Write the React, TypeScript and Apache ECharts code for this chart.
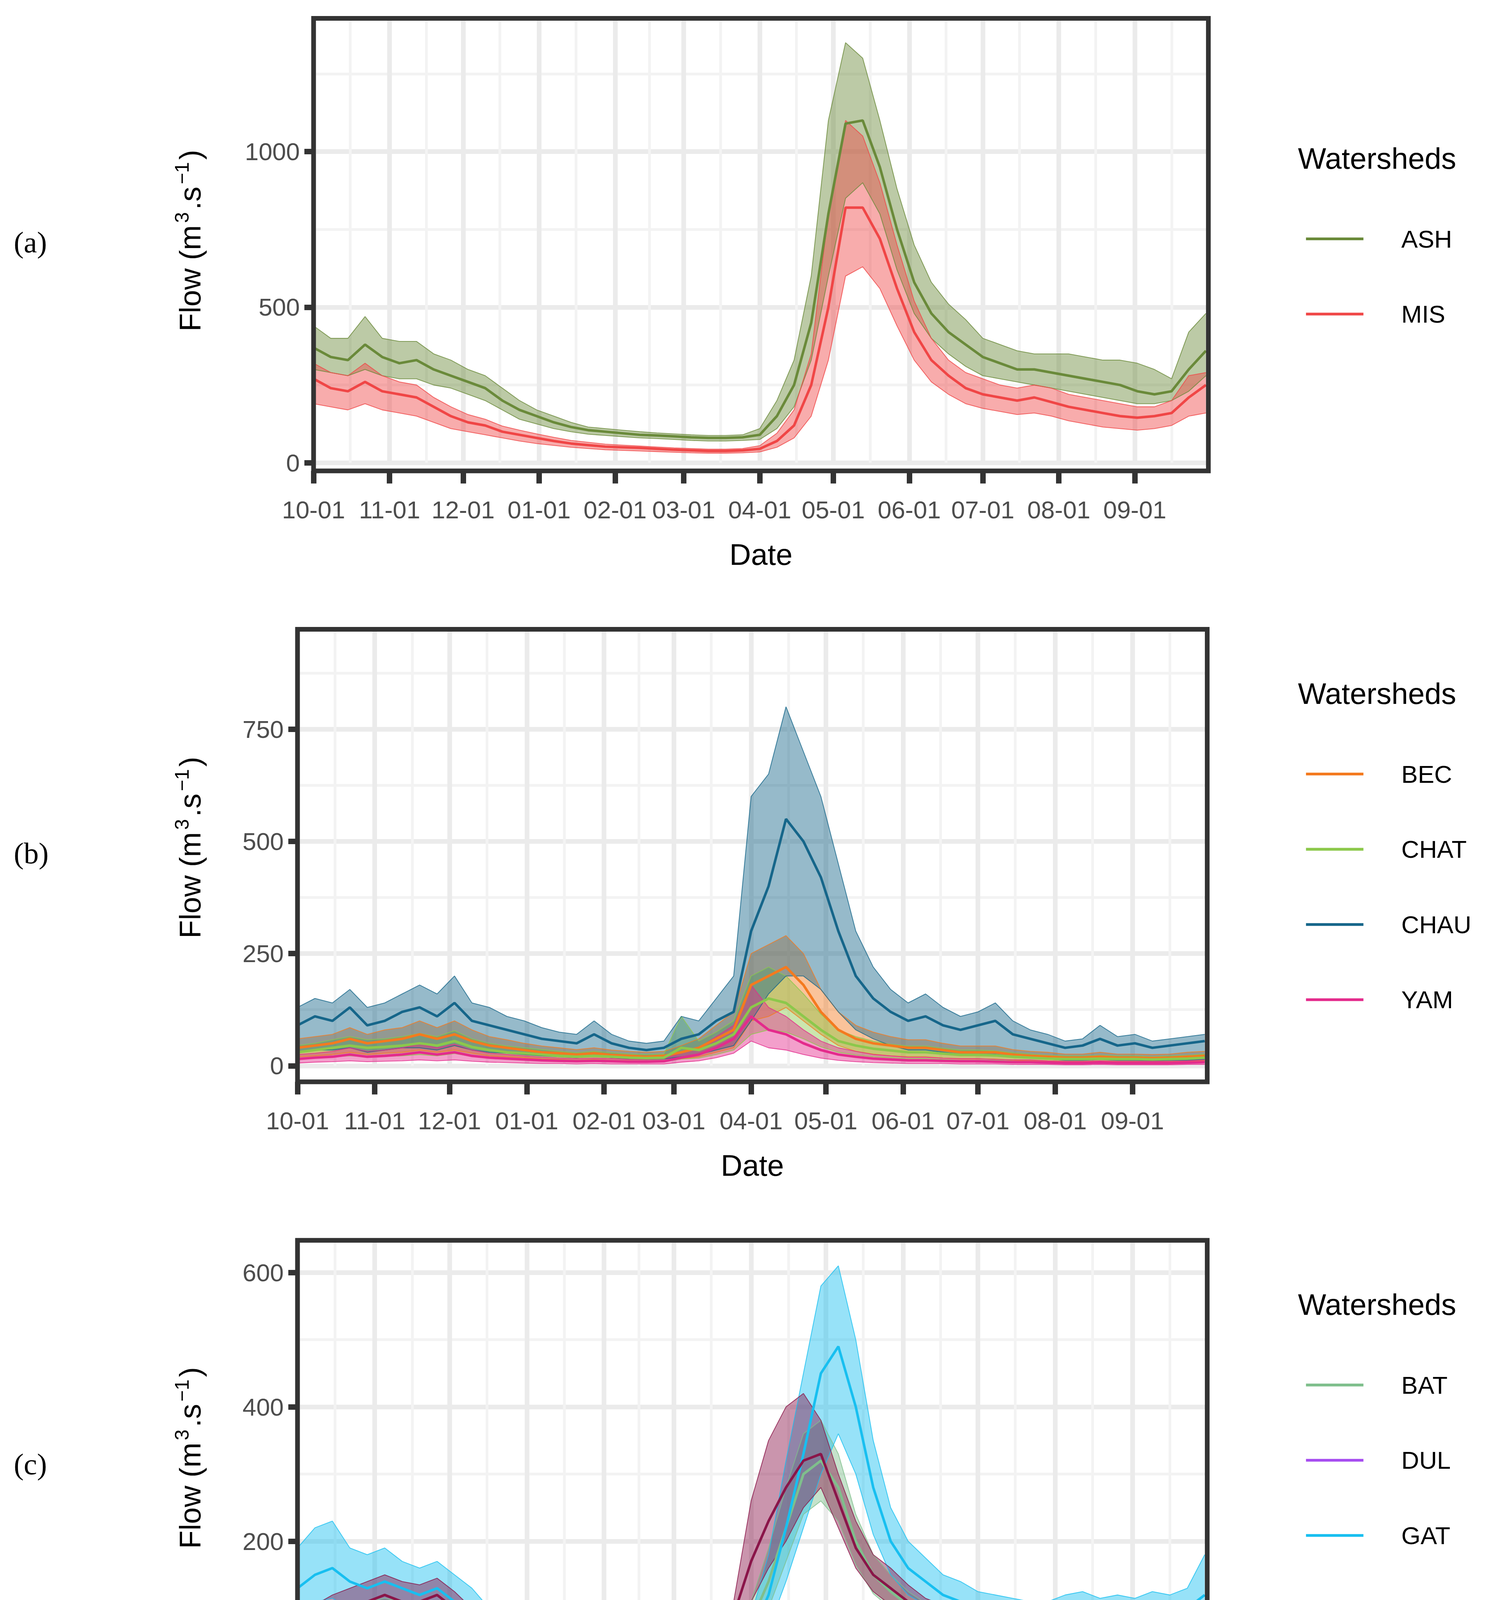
import React, { useEffect, useRef } from "react";
import * as echarts from "echarts";

// sample days: every 7 days from 10-01 (day 0) to day 364
const sampleDays = Array.from({ length: 53 }, (_, i) => i * 7);
const monthStarts = [0, 31, 61, 92, 123, 151, 182, 212, 243, 273, 304, 335];
const minorDays = [15, 46, 76, 107, 137, 166, 197, 227, 258, 288, 319, 350];
const monthNames = ["10", "11", "12", "01", "02", "03", "04", "05", "06", "07", "08", "09"];

// Panel (a)
const ASH_mean = [370,340,330,380,340,320,330,300,280,260,240,200,170,150,130,115,105,100,95,90,88,85,82,80,80,82,90,150,250,450,800,1090,1100,950,750,580,480,420,380,340,320,300,300,290,280,270,260,250,230,220,230,300,360];
const ASH_up = [440,400,400,470,400,390,390,350,330,300,280,240,200,170,150,130,115,110,105,100,96,93,90,88,88,90,110,200,330,600,1100,1350,1300,1100,880,700,580,510,460,400,380,360,350,350,350,340,330,330,320,300,270,420,480];
const ASH_lo = [300,290,280,300,280,270,270,250,240,220,200,170,140,125,110,100,92,88,84,80,78,75,72,70,70,72,75,110,180,330,600,850,900,800,620,480,400,350,310,280,270,260,250,240,230,220,210,200,190,190,200,230,280];
const MIS_mean = [270,240,230,260,230,220,210,180,150,130,120,100,90,80,70,62,57,52,50,48,45,42,40,38,38,40,45,70,120,250,500,820,820,720,560,420,330,280,240,220,210,200,210,195,180,170,160,150,145,150,160,210,250];
const MIS_up = [320,290,280,320,280,260,250,210,180,155,140,118,105,93,82,72,66,60,57,54,51,48,46,44,44,46,55,95,170,350,800,1100,1050,900,700,520,400,330,290,270,250,240,250,240,220,210,200,190,180,180,200,280,290];
const MIS_lo = [190,180,170,190,170,160,150,130,110,100,90,80,70,62,56,50,46,42,40,38,36,34,32,31,31,32,35,50,80,150,330,600,630,560,440,330,260,220,190,175,165,155,160,150,135,125,115,110,105,110,120,150,160];

// Panel (b)
const BEC_mean = [40,45,50,60,50,55,60,70,60,70,55,45,40,35,30,28,25,28,24,22,20,22,30,40,60,80,180,200,220,180,120,80,60,50,45,40,40,35,30,30,30,25,22,20,18,18,20,18,18,17,18,20,22];
const BEC_up = [60,65,70,85,70,80,85,100,85,100,80,65,58,50,44,40,36,40,35,32,30,32,45,60,90,120,250,270,290,250,170,120,90,75,65,58,58,50,44,44,44,36,32,30,26,26,30,26,26,25,26,30,32];
const BEC_lo = [20,22,25,30,25,28,30,35,30,35,28,22,20,18,15,14,12,14,12,11,10,11,15,20,30,40,100,110,130,100,70,45,32,26,22,20,20,17,15,15,15,12,11,10,9,9,10,9,9,8,9,10,11];
const CHAT_mean = [30,35,40,45,40,42,45,50,45,55,42,35,30,28,25,22,20,22,20,18,17,18,40,35,50,70,130,150,140,110,80,55,45,38,34,30,30,27,24,24,23,20,18,16,15,15,16,15,15,14,15,16,18];
const CHAT_up = [45,50,58,65,58,60,65,72,65,78,60,50,44,40,36,32,29,32,29,26,25,26,110,55,75,100,200,220,200,160,115,80,65,55,48,44,44,39,35,35,33,29,26,23,22,22,23,22,22,20,22,23,26];
const CHAT_lo = [15,18,20,22,20,21,22,25,22,27,21,18,15,14,12,11,10,11,10,9,8,9,15,17,25,35,70,80,75,60,42,30,24,20,18,16,16,14,12,12,12,10,9,8,7,7,8,7,7,7,7,8,9];
const CHAU_mean = [90,110,100,130,90,100,120,130,110,140,100,90,80,70,60,55,50,70,50,40,35,40,60,70,100,120,300,400,550,500,420,300,200,150,120,100,110,90,80,90,100,70,60,50,40,45,60,45,50,40,45,50,55];
const CHAU_up = [130,150,140,170,130,140,160,180,160,200,140,130,110,100,85,75,70,100,70,55,50,55,110,100,150,200,600,650,800,700,600,450,300,220,170,140,160,130,110,120,140,100,80,70,55,60,90,65,70,55,60,65,70];
const CHAU_lo = [30,35,35,40,30,35,40,40,35,45,35,30,28,25,22,20,18,22,18,15,14,15,20,25,35,45,100,160,200,200,170,120,80,60,45,35,35,30,25,25,25,20,18,15,12,12,14,12,12,11,12,12,14];
const YAM_mean = [15,18,20,25,20,22,25,30,25,30,22,18,16,14,12,11,10,11,10,9,9,10,18,25,40,60,110,80,70,50,35,25,20,16,14,12,12,11,10,10,9,8,8,7,6,6,7,6,6,6,6,7,8];
const YAM_up = [25,28,32,40,32,35,40,48,40,48,35,28,25,22,19,17,16,17,16,14,14,16,28,40,65,90,180,130,110,80,55,40,32,25,22,19,19,17,16,16,14,13,13,11,10,10,11,10,10,10,10,11,13];
const YAM_lo = [6,8,9,11,9,10,11,13,11,13,10,8,7,6,5,5,4,5,4,4,4,4,8,11,18,28,55,40,35,25,17,12,9,7,6,5,5,5,4,4,4,3,3,3,2,2,3,2,2,2,2,3,3];

// Panel (c)
const BAT_mean = [60,70,80,85,90,95,90,85,90,80,65,55,50,45,40,38,35,33,32,30,30,30,32,35,40,50,80,140,220,300,320,280,200,150,125,105,90,80,75,70,65,62,58,55,52,50,50,48,45,45,45,45,55];
const BAT_up = [75,90,100,105,110,115,110,105,110,100,80,68,62,55,50,46,43,40,39,37,37,37,40,43,50,65,110,190,280,360,380,330,240,180,150,125,108,96,90,84,78,75,70,66,62,60,60,58,55,55,55,55,68];
const BAT_lo = [45,52,60,65,70,75,70,65,70,62,50,42,38,35,31,29,27,26,25,24,24,24,25,27,30,38,55,100,170,240,260,230,165,122,100,85,73,65,60,56,52,50,46,44,42,40,40,38,36,36,36,36,44];
const DUL_mean = [5,6,7,8,9,10,11,12,11,11,10,9,8,7,6,6,5,5,5,5,5,5,5,5,5,6,8,15,25,40,55,50,35,25,18,14,12,10,9,8,7,7,6,6,5,5,5,5,5,5,5,5,5];
const DUL_up = [7,9,10,11,12,13,14,15,14,14,13,12,10,9,8,8,7,7,7,7,7,7,7,7,7,8,12,25,40,60,78,70,48,33,23,18,15,13,11,10,9,9,8,8,7,7,7,7,7,7,7,7,7];
const DUL_lo = [3,4,5,6,7,8,8,9,8,8,8,7,6,5,5,4,4,4,4,4,4,4,4,4,4,4,5,9,15,25,35,35,25,18,13,10,9,8,7,6,5,5,5,5,4,4,4,4,4,4,4,4,4];
const GAT_mean = [130,150,160,140,130,140,130,120,130,110,100,80,70,60,55,50,45,42,40,38,36,35,35,35,35,37,60,120,220,330,450,490,400,280,200,160,140,120,110,100,95,90,85,85,90,95,90,95,90,100,95,100,120];
const GAT_up = [190,220,230,190,180,190,170,160,170,150,130,100,85,72,65,60,54,50,48,45,43,42,42,42,42,45,90,180,320,450,580,610,500,350,250,200,175,150,140,125,120,115,110,110,120,125,115,120,115,125,120,130,180];
const GAT_lo = [90,110,115,100,95,100,95,90,95,80,75,60,55,48,44,40,36,34,32,30,29,28,28,28,28,30,40,70,140,220,300,360,300,210,150,120,105,95,85,80,75,70,65,65,70,70,65,70,65,72,70,72,85];
const ROU_mean = [60,80,90,100,110,120,110,110,120,100,80,70,65,60,55,50,48,45,45,42,42,40,45,50,60,90,170,230,280,320,330,260,190,150,130,110,95,85,80,75,70,65,60,55,52,50,50,48,45,45,45,45,50];
const ROU_up = [80,105,120,130,140,150,140,135,145,125,100,85,78,72,66,60,58,54,54,50,50,48,58,62,75,110,260,350,400,420,380,300,230,180,160,135,115,105,100,95,90,82,75,70,66,64,62,60,58,58,58,58,65];
const ROU_lo = [40,55,65,75,80,90,80,80,90,75,60,55,52,48,44,40,38,36,36,34,34,32,35,38,45,70,110,160,200,250,280,220,160,125,105,88,75,68,62,58,54,50,46,42,40,38,38,36,34,33,33,33,36];

const S = 2.94;
const FONT = "Liberation Sans, Arial, sans-serif";

type Ser = { name: string; color: string; mean: number[]; up: number[]; lo: number[] };

const panels: {
  label: string; left: number; top: number; width: number; zeroY: number; bottom: number;
  max: number; interval: number; series: Ser[];
}[] = [
  { label: "(a)", left: 273, top: 16, width: 779, zeroY: 403, bottom: 410, max: 1428, interval: 500,
    series: [
      { name: "ASH", color: "#6a8a3a", mean: ASH_mean, up: ASH_up, lo: ASH_lo },
      { name: "MIS", color: "#f04646", mean: MIS_mean, up: MIS_up, lo: MIS_lo },
    ] },
  { label: "(b)", left: 259, top: 548, width: 792, zeroY: 928, bottom: 942, max: 972.6, interval: 250,
    series: [
      { name: "BEC", color: "#f47a1f", mean: BEC_mean, up: BEC_up, lo: BEC_lo },
      { name: "CHAT", color: "#8cc84b", mean: CHAT_mean, up: CHAT_up, lo: CHAT_lo },
      { name: "CHAU", color: "#16668a", mean: CHAU_mean, up: CHAU_up, lo: CHAU_lo },
      { name: "YAM", color: "#e42b8c", mean: YAM_mean, up: YAM_up, lo: YAM_lo },
    ] },
  { label: "(c)", left: 259, top: 1080, width: 792, zeroY: 1459, bottom: 1474, max: 648, interval: 200,
    series: [
      { name: "BAT", color: "#7fbf8c", mean: BAT_mean, up: BAT_up, lo: BAT_lo },
      { name: "DUL", color: "#a64cf0", mean: DUL_mean, up: DUL_up, lo: DUL_lo },
      { name: "GAT", color: "#18bff0", mean: GAT_mean, up: GAT_up, lo: GAT_lo },
      { name: "ROU", color: "#8a1549", mean: ROU_mean, up: ROU_up, lo: ROU_lo },
    ] },
];

function dayLabel(d: number): string {
  const mi = monthStarts.indexOf(d);
  return mi >= 0 ? monthNames[mi] + "-01" : "";
}

export default function App() {
  const ref = useRef<HTMLDivElement>(null);
  useEffect(() => {
    const chart = echarts.init(ref.current!, null, { renderer: "svg" });
    const cats = Array.from({ length: 366 }, (_, i) => String(i));
    const grids: any[] = [], xAxes: any[] = [], yAxes: any[] = [], series: any[] = [], graphics: any[] = [];
    const isMonth = (i: number) => monthStarts.includes(i);
    panels.forEach((p, k) => {
      grids[k] = { left: p.left * S, top: p.top * S, width: p.width * S, height: (p.zeroY - p.top) * S };
      grids[3 + k] = { left: p.left * S, top: p.bottom * S - 1, width: p.width * S, height: 1 };
      xAxes.push({
        type: "category", gridIndex: k, data: cats, boundaryGap: false,
        axisLine: { show: false }, axisTick: { show: false }, axisLabel: { show: false },
        splitLine: { show: true, interval: isMonth, lineStyle: { color: "#ebebeb", width: 12 } },
      });
      xAxes.push({
        type: "category", gridIndex: k, data: cats, boundaryGap: false,
        axisLine: { show: false }, axisTick: { show: false }, axisLabel: { show: false },
        splitLine: { show: true, interval: (i: number) => minorDays.includes(i), lineStyle: { color: "#f3f3f3", width: 7 } },
      });
      yAxes.push({
        type: "value", gridIndex: k, min: 0, max: p.max, interval: p.interval,
        name: "Flow (m{sup|3}.s{sup|−1})", nameLocation: "middle", nameGap: (p.left - 181) * S, nameRotate: 90,
        nameTextStyle: { fontFamily: FONT, fontSize: 26 * S, color: "#000",
          rich: { sup: { fontFamily: FONT, fontSize: 17 * S, color: "#000", padding: [0, 2 * S, 14 * S, 2 * S] } } },
        axisLine: { show: false },
        axisTick: { show: true, length: 8 * S, lineStyle: { color: "#333", width: 14 } },
        axisLabel: { fontFamily: FONT, fontSize: 21.5 * S, color: "#4d4d4d", margin: 12 * S, showMaxLabel: false,
          formatter: (v: number) => String(v) },
        splitLine: { show: true, lineStyle: { color: "#ebebeb", width: 12 } },
        minorTick: { show: false, splitNumber: 2 },
        minorSplitLine: { show: true, lineStyle: { color: "#f3f3f3", width: 7 } },
      });
      graphics.push({ type: "rect", shape: { x: p.left * S, y: p.top * S, width: p.width * S, height: (p.bottom - p.top) * S },
        style: { fill: "none", stroke: "#333", lineWidth: 12 }, z: 100 });
      graphics.push({ type: "text", x: 12 * S, y: ((p.top + p.bottom) / 2 - 2) * S,
        style: { text: p.label, font: `${26 * S}px "Liberation Serif", serif`, fill: "#000", verticalAlign: "middle" } });
      const lgTop = p.top + (k === 0 ? 122 : 56);
      graphics.push({ type: "text", x: 1130 * S, y: lgTop * S,
        style: { text: "Watersheds", font: `${26 * S}px ${FONT}`, fill: "#000", verticalAlign: "middle" } });
      p.series.forEach((s, j) => {
        const yy = (lgTop + 70 + j * 65.5) * S;
        graphics.push({ type: "line", shape: { x1: 1137 * S, y1: yy, x2: 1187 * S, y2: yy }, style: { stroke: s.color, lineWidth: 2.4 * S } });
        graphics.push({ type: "text", x: 1220 * S, y: yy, style: { text: s.name, font: `${21.5 * S}px ${FONT}`, fill: "#000", verticalAlign: "middle" } });
      });
      p.series.forEach((s) => {
        const st = "band" + k + s.name;
        series.push({ type: "line", xAxisIndex: 2 * k, yAxisIndex: k, stack: st, symbol: "none", silent: true,
          data: sampleDays.map((d, i) => [d, s.lo[i]]),
          lineStyle: { color: s.color, width: 0.7 * S, opacity: 0.8 } });
        series.push({ type: "line", xAxisIndex: 2 * k, yAxisIndex: k, stack: st, symbol: "none", silent: true,
          data: sampleDays.map((d, i) => [d, s.up[i] - s.lo[i]]),
          lineStyle: { color: s.color, width: 0.7 * S, opacity: 0.8 },
          areaStyle: { color: s.color, opacity: 0.45 } });
      });
      p.series.forEach((s) => {
        series.push({ type: "line", name: s.name, xAxisIndex: 2 * k, yAxisIndex: k, symbol: "none", z: 5,
          data: sampleDays.map((d, i) => [d, s.mean[i]]),
          lineStyle: { color: s.color, width: 2.2 * S } });
      });
    });
    panels.forEach((p, k) => {
      xAxes.push({
        type: "category", gridIndex: 3 + k, data: cats, boundaryGap: false, position: "bottom",
        name: "Date", nameLocation: "middle", nameGap: 60 * S,
        nameTextStyle: { fontFamily: FONT, fontSize: 26 * S, color: "#000" },
        axisLine: { show: false },
        axisTick: { show: true, length: 11 * S, lineStyle: { color: "#333", width: 14 }, interval: isMonth },
        axisLabel: { show: true, interval: isMonth, formatter: (v: string) => dayLabel(Number(v)),
          fontFamily: FONT, fontSize: 21.5 * S, color: "#4d4d4d", margin: 23 * S },
        splitLine: { show: false },
      });
      yAxes.push({ type: "value", gridIndex: 3 + k, show: false, min: 0, max: 1, splitLine: { show: false } });
    });
    chart.setOption({ animation: false, backgroundColor: "#fff", grid: grids, xAxis: xAxes, yAxis: yAxes, series, graphic: graphics });
    return () => chart.dispose();
  }, []);
  return <div ref={ref} style={{ position: "absolute", left: 0, top: 0, width: 3824, height: 4645 }} />;
}
